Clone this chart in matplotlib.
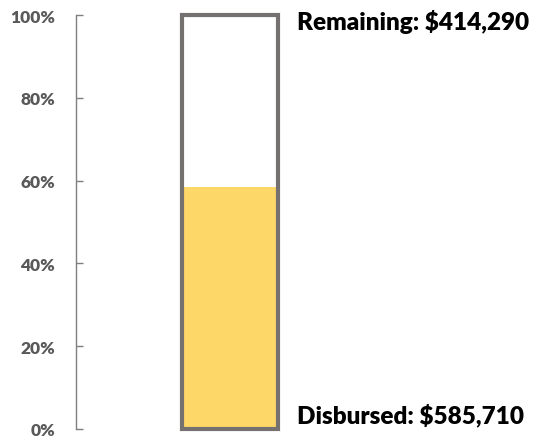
import matplotlib
matplotlib.use("Agg")
import matplotlib.pyplot as plt
from matplotlib.ticker import PercentFormatter

# values
disbursed = 585710
remaining = 414290
total = disbursed + remaining
shares = [disbursed / total, remaining / total]
labels = [f"Disbursed: ${disbursed:,}", f"Remaining: ${remaining:,}"]
ticks = [0, 0.2, 0.4, 0.6, 0.8, 1.0]

plt.rcParams["font.family"] = ["Lato", "DejaVu Sans"]

fig = plt.figure(figsize=(5.34, 4.39), dpi=100)
ax = fig.add_axes([76 / 534, 9 / 439, 458 / 534, 414 / 439])

x = 0.336
w = 0.211
ax.bar(x, shares[0], width=w, color="#FDD767", linewidth=0)
ax.bar(x, shares[1], width=w, bottom=shares[0], color="white", linewidth=0)
ax.bar(x, sum(shares), width=w, fill=False, edgecolor="#767171", linewidth=3, clip_on=False)

ax.text(0.483, 0.986, labels[1], fontsize=17.5, fontweight="heavy", va="center", ha="left", color="black")
ax.text(0.483, 0.036, labels[0], fontsize=17.5, fontweight="heavy", va="center", ha="left", color="black")

ax.set_xlim(0, 1)
ax.set_ylim(0, 1)
ax.set_yticks(ticks)
ax.yaxis.set_major_formatter(PercentFormatter(1.0, decimals=0))
ax.tick_params(axis="y", direction="in", length=5, width=1, color="#7f7f7f",
               labelcolor="#595959", labelsize=12.5, pad=15)
for lab in ax.get_yticklabels():
    lab.set_fontweight("heavy")
ax.set_xticks([])
for s in ["top", "right", "bottom"]:
    ax.spines[s].set_visible(False)
ax.spines["left"].set_color("#7f7f7f")
ax.spines["left"].set_linewidth(1)

fig.savefig("out.png", dpi=100)
